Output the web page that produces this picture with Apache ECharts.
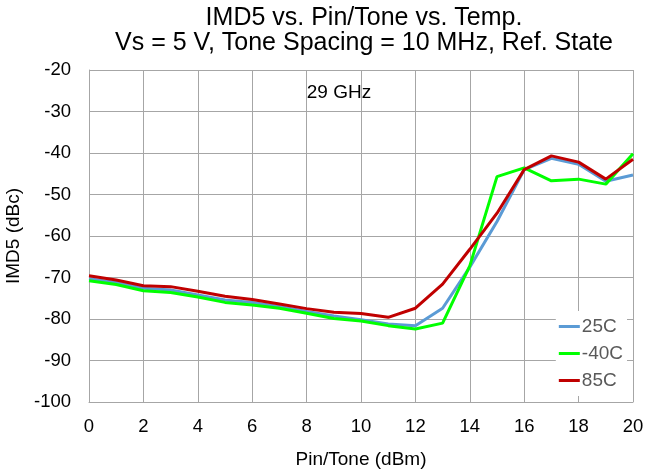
<!DOCTYPE html>
<html>
<head>
<meta charset="utf-8">
<script src="https://cdn.jsdelivr.net/npm/echarts@6/dist/echarts.min.js"></script>
<style>html,body{margin:0;padding:0;background:#fff}#c{width:661px;height:476px}</style>
</head>
<body>
<div id="c"></div>
<script>
const pinTone = [0,1,2,3,4,5,6,7,8,9,10,11,12,13,14,15,16,17,18,19,20];
const s25C  = [-70.3,-71.2,-72.6,-73.0,-74.2,-75.4,-76.0,-77.0,-78.2,-79.3,-80.2,-81.2,-81.6,-77.4,-67.5,-56.5,-44.0,-41.3,-42.7,-46.8,-45.3];
const sM40C = [-70.8,-71.7,-73.2,-73.6,-74.7,-76.0,-76.6,-77.4,-78.6,-79.9,-80.5,-81.6,-82.4,-81.0,-67.2,-45.7,-43.6,-46.7,-46.3,-47.5,-40.2];
const s85C  = [-69.6,-70.6,-72.0,-72.2,-73.3,-74.5,-75.3,-76.4,-77.5,-78.4,-78.7,-79.6,-77.4,-71.6,-63.2,-54.5,-44.0,-40.7,-42.2,-46.3,-41.5];
const seriesNames = ['25C','-40C','85C'];
const seriesColors = ['#5B9BD5','#00FF00','#C00000'];
const xTicks = {min:0,max:20,interval:2};
const yTicks = {min:-100,max:-20,interval:10};

const pair = arr => pinTone.map((x,i)=>[x,arr[i]]);
const font = 'Liberation Sans, Arial, sans-serif';
const chart = echarts.init(document.getElementById('c'));
chart.setOption({
  animation:false,
  backgroundColor:'#fff',
  title:[{
    text:'IMD5 vs. Pin/Tone vs. Temp.\nVs = 5 V, Tone Spacing = 10 MHz, Ref. State',
    left:364, top:6, textAlign:'center', padding:0,
    textStyle:{fontFamily:font,fontSize:25,fontWeight:'normal',color:'#000',lineHeight:25}
  },{
    text:'29 GHz', left:339, top:83, textAlign:'center', padding:0,
    textStyle:{fontFamily:font,fontSize:19,fontWeight:'normal',color:'#000'}
  }],
  grid:{left:89,right:28,top:70,bottom:74,outerBoundsMode:'none',containLabel:false},
  legend:{
    orient:'vertical', right:34, top:311,
    backgroundColor:'#fff', padding:[6,4,6,3],
    itemWidth:21, itemHeight:3, itemGap:8,
    icon:'rect',
    textStyle:{fontFamily:font,fontSize:19,lineHeight:19,color:'#595959',padding:[0,0,0,-3]},
    data:seriesNames
  },
  xAxis:{
    type:'value', min:xTicks.min, max:xTicks.max, interval:xTicks.interval,
    name:'Pin/Tone (dBm)', nameLocation:'middle', nameGap:48,
    nameTextStyle:{fontFamily:font,fontSize:19,color:'#000'},
    axisLine:{show:true,lineStyle:{color:'#a6a6a6',width:1}},
    axisTick:{show:false},
    axisLabel:{fontFamily:font,fontSize:18.5,color:'#000',margin:15},
    splitLine:{show:true,lineStyle:{color:'#a6a6a6',width:1}}
  },
  yAxis:{
    type:'value', min:yTicks.min, max:yTicks.max, interval:yTicks.interval,
    name:'IMD5 (dBc)', nameLocation:'middle', nameGap:57, nameRotate:90,
    nameTextStyle:{fontFamily:font,fontSize:19,color:'#000'},
    axisLine:{show:true,lineStyle:{color:'#a6a6a6',width:1}},
    axisTick:{show:false},
    axisLabel:{fontFamily:font,fontSize:18.5,color:'#000',margin:18},
    splitLine:{show:true,lineStyle:{color:'#a6a6a6',width:1}}
  },
  series:[s25C,sM40C,s85C].map((d,i)=>({
    name:seriesNames[i], type:'line', data:pair(d), symbol:'none',
    lineStyle:{color:seriesColors[i],width:3}, itemStyle:{color:seriesColors[i]}
  }))
});
</script>
</body>
</html>
